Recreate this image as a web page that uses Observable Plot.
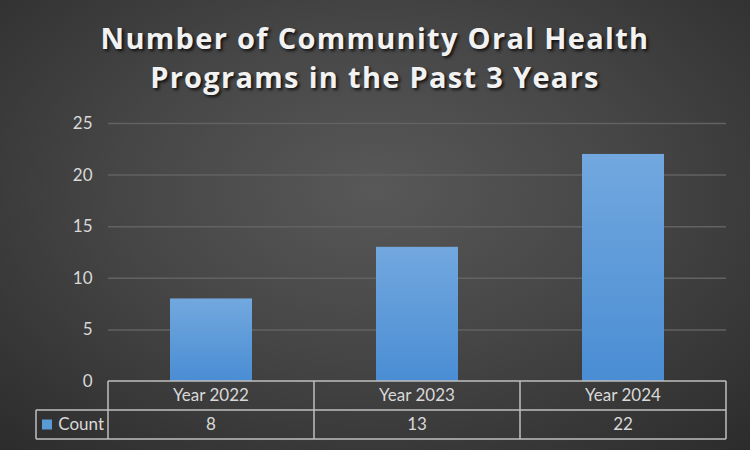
<!DOCTYPE html>
<html>
<head>
<meta charset="utf-8">
<script src="https://cdn.jsdelivr.net/npm/d3@7"></script>
<script src="https://cdn.jsdelivr.net/npm/@observablehq/plot@0.6"></script>
<style>
  html, body { margin: 0; padding: 0; }
  #wrap {
    position: relative; width: 750px; height: 450px; overflow: hidden;
    background: radial-gradient(ellipse 75% 80% at 50% 42%, #585858 0%, #464646 45%, #2b2b2b 100%);
    font-family: Lato, "Open Sans", sans-serif;
  }
  #title {
    position: absolute; left: 0; top: 18px; width: 750px; text-align: center;
    color: #f2f2f2; font-family: "Open Sans", sans-serif; font-weight: 700;
    font-size: 29px; line-height: 39px; letter-spacing: 1.3px;
    text-shadow: 2px 2px 3px rgba(0,0,0,0.75);
  }
  #chart { position: absolute; left: 0; top: 0; }
</style>
</head>
<body>
<div id="wrap">
  <div id="title">Number of Community Oral Health<br>Programs in the Past 3 Years</div>
  <div id="chart"></div>
</div>
<script>
const categories = ["Year 2022", "Year 2023", "Year 2024"];
const counts = [8, 13, 22];
const seriesName = "Count";
const yTicks = [0, 5, 10, 15, 20, 25];

const data = categories.map((c, i) => ({category: c, value: counts[i]}));

const plot = Plot.plot({
  width: 750,
  height: 450,
  marginTop: 123,
  marginBottom: 69,
  marginLeft: 108,
  marginRight: 24,
  style: {background: "transparent", color: "#d9d9d9", fontFamily: "Lato, 'Open Sans', sans-serif", fontSize: "17px", overflow: "visible"},
  x: {domain: categories, paddingInner: 0.6, paddingOuter: 0.3, axis: null},
  y: {domain: [0, 25], ticks: yTicks, grid: false, label: null},
  marks: [
    Plot.ruleY(yTicks.filter(d => d > 0), {stroke: "#626262", strokeWidth: 1.5}),
    Plot.axisY({ticks: yTicks, tickSize: 0, tickPadding: 16, label: null, fontSize: 17, fill: "#d9d9d9"}),
    Plot.barY(data, {x: "category", y: "value", fill: "url(#barGrad)", style: "filter: drop-shadow(1px 1px 2px rgba(0,0,0,0.55))"})
  ]
});

document.getElementById("chart").appendChild(plot);

// gradient for bars
const svg = d3.select(plot);
const defs = svg.insert("defs", ":first-child");
const grad = defs.append("linearGradient").attr("id", "barGrad").attr("x1", 0).attr("y1", 0).attr("x2", 0).attr("y2", 1);
grad.append("stop").attr("offset", "0%").attr("stop-color", "#72a8df");
grad.append("stop").attr("offset", "100%").attr("stop-color", "#4a8dd3");

// data table below the axis, positioned with the plot's scales
const x = plot.scale("x");
const y = plot.scale("y");
const step = x.step;
const bw = x.bandwidth;
const edges = categories.map(c => x.apply(c) + bw / 2 - step / 2);
edges.push(x.apply(categories[categories.length - 1]) + bw / 2 + step / 2);
const left = edges[0], right = edges[edges.length - 1];
const y0 = y.apply(0);
const rowH = 29;
const y1 = y0 + rowH, y2 = y0 + 2 * rowH;
const legendLeft = 36;

const g = svg.append("g").attr("stroke", "#bfbfbf").attr("stroke-width", 1.5).attr("fill", "none");
const lines = [
  [left, y0, right, y0],
  [legendLeft, y1, right, y1],
  [legendLeft, y2, right, y2],
  [legendLeft, y1, legendLeft, y2]
];
edges.forEach(e => lines.push([e, y0, e, y2]));
lines.forEach(([a, b, c, d]) => g.append("line").attr("x1", a).attr("y1", b).attr("x2", c).attr("y2", d));

const t = svg.append("g").attr("fill", "#d9d9d9").attr("font-size", 17).attr("font-family", "Lato, 'Open Sans', sans-serif").attr("text-anchor", "middle");
categories.forEach((c, i) => {
  const cx = x.apply(c) + bw / 2;
  t.append("text").attr("x", cx).attr("y", (y0 + y1) / 2).attr("dy", "0.35em").text(c);
  t.append("text").attr("x", cx).attr("y", (y1 + y2) / 2).attr("dy", "0.35em").text(counts[i]);
});
svg.append("rect").attr("x", legendLeft + 6).attr("y", (y1 + y2) / 2 - 5).attr("width", 10).attr("height", 10).attr("fill", "#5b9bd5");
t.append("text").attr("x", left - 4).attr("y", (y1 + y2) / 2).attr("dy", "0.35em").attr("text-anchor", "end").text(seriesName);
</script>
</body>
</html>
